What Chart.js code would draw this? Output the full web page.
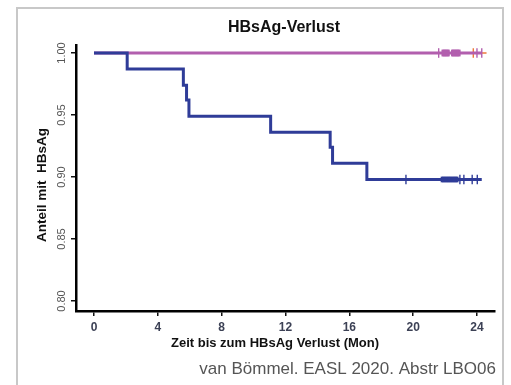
<!DOCTYPE html>
<html>
<head>
<meta charset="utf-8">
<script src="https://cdn.jsdelivr.net/npm/chart.js@4.4.1/dist/chart.umd.min.js"></script>
<style>
html,body{margin:0;padding:0;background:#fff;}
#wrap{position:relative;width:511px;height:385px;}
canvas{display:block;}
</style>
</head>
<body>
<div id="wrap"><canvas id="c" width="511" height="385"></canvas></div>
<script>
// ---- data ----
const chartTitle = "HBsAg-Verlust";
const xTitle = "Zeit bis zum HBsAg Verlust (Mon)";
const yTitle = "Anteil mit  HBsAg";
const footer = "van Bömmel. EASL 2020. Abstr LBO06";

const xTicks = [0, 4, 8, 12, 16, 20, 24];
const yTicks = [0.80, 0.85, 0.90, 0.95, 1.00];

// Blue group: Kaplan-Meier step curve (time in months, survival after step)
const blueTimes = [0, 2.08, 5.6, 5.8, 5.95, 11.07, 14.8, 14.95, 17.1, 24.3];
const blueSurv  = [1.0, 0.987, 0.974, 0.962, 0.949, 0.936, 0.924, 0.911, 0.898, 0.898];
const blueCensor = [19.55, 21.8, 21.87, 21.95, 22.02, 22.1, 22.17, 22.25, 22.32, 22.4, 22.47, 22.55, 22.62, 22.7, 22.77, 22.93, 23.18, 23.7, 24.02];

// Magenta group: no events
const magTimes = [0, 24.3];
const magSurv  = [1.0, 1.0];
const magCensor = [21.6, 21.85, 21.92, 22.0, 22.07, 22.15, 22.22, 22.45, 22.52, 22.6, 22.67, 22.75, 22.82, 22.9, 24.0, 24.3];

// Orange group (mostly hidden behind magenta)
const orgTimes = [23.77, 24.6];
const orgSurv  = [1.0, 1.0];
const orgCensor = [23.77];

// ---- build ----
const BLUE = '#2f3c98';
const MAG = '#b25fae';
const ORG = '#ef7a3a';

function pts(xs, ys){ return xs.map((x,i)=>({x:x, y:ys[i]})); }
function censorPts(xs, yv){ return xs.map(x=>({x:x, y:yv})); }
function isDense(list, i){
  const v = list[i];
  const lo = list.some(o=> o < v && v - o < 0.12);
  const hi = list.some(o=> o > v && o - v < 0.12);
  return lo || hi;
}
function censorRadius(list, dense, sparse){
  return ctx => isDense(list, ctx.dataIndex) ? dense : sparse;
}
function censorWidth(list){
  return ctx => isDense(list, ctx.dataIndex) ? 2.4 : 1.4;
}

const textPlugin = {
  id: 'texts',
  afterDraw(chart){
    const c = chart.ctx;
    c.save();
    c.fillStyle = '#111';
    c.textAlign = 'center';
    c.textBaseline = 'middle';
    c.font = 'bold 16px "Liberation Sans", Arial, sans-serif';
    c.fillText(chartTitle, 284, 28);
    c.font = 'bold 13px "Liberation Sans", Arial, sans-serif';
    c.fillText(xTitle, 275, 343);
    c.save();
    c.translate(42, 185);
    c.rotate(-Math.PI/2);
    c.font = 'bold 13.5px "Liberation Sans", Arial, sans-serif';
    c.fillText(yTitle, 0, 0);
    c.restore();
    c.fillStyle = '#555';
    c.textAlign = 'right';
    c.font = '17px "Liberation Sans", Arial, sans-serif';
    c.fillText(footer, 496, 369);
    // frame
    c.strokeStyle = '#c8c8c8';
    c.lineWidth = 2;
    c.beginPath();
    c.moveTo(17, 385); c.lineTo(17, 8); c.lineTo(503, 8); c.lineTo(503, 385);
    c.stroke();
    c.restore();
  }
};

new Chart(document.getElementById('c'), {
  type: 'scatter',
  data: {
    datasets: [
      { label:'blue censor', data: censorPts(blueCensor, 0.898), showLine:false,
        pointStyle:'line', rotation:90, radius: censorRadius(blueCensor, 2.8, 4.8),
        borderColor: BLUE, backgroundColor: BLUE, borderWidth: censorWidth(blueCensor) },
      { label:'magenta censor', data: censorPts(magCensor, 1.0), showLine:false,
        pointStyle:'line', rotation:90, radius: censorRadius(magCensor, 3.4, 4.8),
        borderColor: MAG, backgroundColor: MAG, borderWidth: censorWidth(magCensor) },
      { label:'blue', data: pts(blueTimes, blueSurv), showLine:true, stepped:true,
        borderColor: BLUE, borderWidth:3, pointRadius:0, fill:false },
      { label:'magenta', data: pts(magTimes, magSurv), showLine:true,
        borderColor: MAG, borderWidth:3, pointRadius:0, fill:false },
      { label:'orange censor', data: censorPts(orgCensor, 1.0), showLine:false,
        pointStyle:'line', rotation:90, radius:4.8, borderColor: ORG, backgroundColor: ORG, borderWidth:1.4 },
      { label:'orange', data: pts(orgTimes, orgSurv), showLine:true,
        borderColor: ORG, borderWidth:1.5, pointRadius:0, fill:false }
    ]
  },
  options: {
    responsive:false,
    animation:false,
    devicePixelRatio:1,
    layout:{ padding:{ left:0, right:16, top:45, bottom:0 } },
    plugins:{ legend:{display:false}, tooltip:{enabled:false}, title:{display:false} },
    scales:{
      x:{
        type:'linear', min:-1.128, max:25.13,
        afterBuildTicks(s){ s.ticks = xTicks.map(v=>({value:v})); },
        afterFit(s){ s.height = 74; },
        grid:{ drawOnChartArea:false, drawTicks:true, tickLength:5, color:'#111', lineWidth:1.5 },
        border:{ display:true, color:'#000', width:2.5 },
        ticks:{ color:'#3c4155', padding:4, maxRotation:0, autoSkip:false,
          font:{ family:'"Liberation Sans", Arial, sans-serif', size:12, weight:'bold' },
          callback:(v)=>String(v) }
      },
      y:{
        type:'linear', min:0.79194, max:1.00645,
        afterBuildTicks(s){ s.ticks = yTicks.map(v=>({value:v})); },
        afterFit(s){ s.width = 76; },
        grid:{ drawOnChartArea:false, drawTicks:true, tickLength:5, color:'#111', lineWidth:1.5 },
        border:{ display:true, color:'#000', width:2.5 },
        ticks:{ color:'#555', padding:-2, minRotation:90, maxRotation:90, crossAlign:'center', autoSkip:false,
          font:{ family:'"Liberation Sans", Arial, sans-serif', size:11 },
          callback:(v)=>Number(v).toFixed(2) }
      }
    }
  },
  plugins:[textPlugin]
});
</script>
</body>
</html>
